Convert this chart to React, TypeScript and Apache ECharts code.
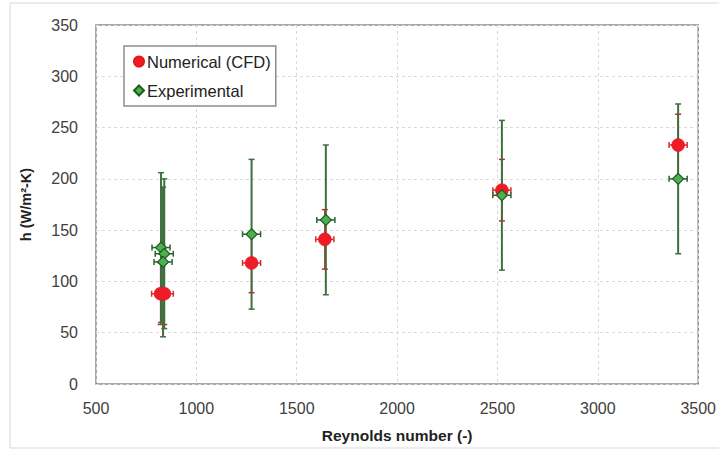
import React, { useEffect, useRef } from "react";
import * as echarts from "echarts";

const cfdRe = [822, 840, 1275, 1640, 2522, 3400];
const cfdH = [88, 88, 118, 141, 189, 233];
const cfdErrRe = [45, 45, 45, 45, 45, 45];
const cfdErrH = [30, 30, 29, 29, 30, 30];

const expRe = [824, 840, 834, 1275, 1645, 2522, 3400];
const expH = [133, 127, 119, 146, 160, 184, 200];
const expErrRe = [45, 45, 45, 45, 45, 45, 45];
const expErrH = [73, 73, 73, 73, 73, 73, 73];

const xTicks = [500, 1000, 1500, 2000, 2500, 3000, 3500];
const yTicks = [0, 50, 100, 150, 200, 250, 300, 350];

const FONT = "'Liberation Sans', Arial, sans-serif";

function errorSeries(re: number[], h: number[], ex: number[], ey: number[], vColor: string, hColor: string, width: number) {
  const data = re.map((x, i) => [x, h[i], ex[i], ey[i]]);
  return {
    type: "custom",
    silent: true,
    encode: { x: 0, y: 1 },
    data,
    renderItem: (params: any, api: any) => {
      const x = api.value(0);
      const y = api.value(1);
      const dx = api.value(2);
      const dy = api.value(3);
      const top = api.coord([x, y + dy]);
      const bot = api.coord([x, y - dy]);
      const lft = api.coord([x - dx, y]);
      const rgt = api.coord([x + dx, y]);
      const cap = 3;
      const vs = { stroke: vColor, lineWidth: width };
      const hs = { stroke: hColor, lineWidth: 1.5 };
      return {
        type: "group",
        children: [
          { type: "line", shape: { x1: top[0], y1: top[1], x2: bot[0], y2: bot[1] }, style: vs },
          { type: "line", shape: { x1: top[0] - cap, y1: top[1], x2: top[0] + cap, y2: top[1] }, style: { stroke: vColor, lineWidth: 1.5 } },
          { type: "line", shape: { x1: bot[0] - cap, y1: bot[1], x2: bot[0] + cap, y2: bot[1] }, style: { stroke: vColor, lineWidth: 1.5 } },
          { type: "line", shape: { x1: lft[0], y1: lft[1], x2: rgt[0], y2: rgt[1] }, style: hs },
          { type: "line", shape: { x1: lft[0], y1: lft[1] - cap, x2: lft[0], y2: lft[1] + cap }, style: hs },
          { type: "line", shape: { x1: rgt[0], y1: rgt[1] - cap, x2: rgt[0], y2: rgt[1] + cap }, style: hs },
        ],
      };
    },
  };
}

export default function App() {
  const ref = useRef<HTMLDivElement>(null);
  useEffect(() => {
    if (!ref.current) return;
    const chart = echarts.init(ref.current, null, { renderer: "svg" });
    chart.setOption({
      animation: false,
      backgroundColor: "#ffffff",
      textStyle: { fontFamily: FONT },
      graphic: [
        {
          type: "rect",
          shape: { x: 10, y: 3, width: 720, height: 445 },
          style: { fill: "none", stroke: "#d9d9d9", lineWidth: 1 },
          silent: true,
          z: -10,
        },
      ],
      grid: {
        left: 96,
        top: 25,
        right: 19,
        bottom: 67,
        show: true,
        borderColor: "#8c8c8c",
        borderWidth: 1.5,
      },
      legend: {
        data: [
          { name: "Numerical (CFD)", icon: "circle" },
          { name: "Experimental", icon: "diamond" },
        ],
        orient: "vertical",
        left: 124,
        top: 46,
        borderColor: "#8c8c8c",
        borderWidth: 1.5,
        backgroundColor: "#ffffff",
        padding: [7, 5, 7, 9],
        itemGap: 12,
        itemWidth: 10,
        itemHeight: 10,
        textStyle: { fontSize: 16.5, color: "#222222", fontFamily: FONT, padding: [0, 0, 0, -2] },
      },
      xAxis: {
        type: "value",
        min: 500,
        max: 3500,
        interval: 500,
        name: "Reynolds number (-)",
        nameLocation: "middle",
        nameGap: 43,
        nameTextStyle: { fontSize: 15.5, fontWeight: "bold", color: "#222222", fontFamily: FONT },
        axisLine: { show: false },
        axisTick: { show: false },
        axisLabel: { fontSize: 16, color: "#404040", margin: 16, fontFamily: FONT, formatter: (v: number) => String(v), customValues: xTicks },
        splitLine: { show: true, lineStyle: { color: "#d9d9d9", type: [3, 3], width: 1 } },
      },
      yAxis: {
        type: "value",
        min: 0,
        max: 350,
        interval: 50,
        name: "h (W/m²-K)",
        nameLocation: "middle",
        nameRotate: 90,
        nameGap: 63,
        nameTextStyle: { fontSize: 14.5, fontWeight: "bold", color: "#222222", fontFamily: FONT },
        axisLine: { show: false },
        axisTick: { show: false },
        axisLabel: { fontSize: 16, color: "#404040", margin: 18, fontFamily: FONT, formatter: (v: number) => String(v), customValues: yTicks },
        splitLine: { show: true, lineStyle: { color: "#d9d9d9", type: [3, 3], width: 1 } },
      },
      series: [
        errorSeries(cfdRe, cfdH, cfdErrRe, cfdErrH, "#c62828", "#d32f2f", 1.5),
        errorSeries(expRe, expH, expErrRe, expErrH, "#3f6f3f", "#2f5f2f", 2),
        {
          name: "Numerical (CFD)",
          type: "scatter",
          symbol: "circle",
          symbolSize: 13,
          itemStyle: { color: "#ee1c25", borderColor: "#e01820", borderWidth: 0.5, opacity: 1 },
          data: cfdRe.map((x, i) => [x, cfdH[i]]),
          z: 5,
        },
        {
          name: "Experimental",
          type: "scatter",
          symbol: "diamond",
          symbolSize: 11,
          itemStyle: { color: "#4caf50", borderColor: "#1b5e20", borderWidth: 1.2, opacity: 1 },
          data: expRe.map((x, i) => [x, expH[i]]),
          z: 6,
        },
      ],
    });
    return () => chart.dispose();
  }, []);
  return (
    <div
      ref={ref}
      style={{ position: "fixed", left: 0, top: 0, width: 719, height: 451 }}
    />
  );
}
